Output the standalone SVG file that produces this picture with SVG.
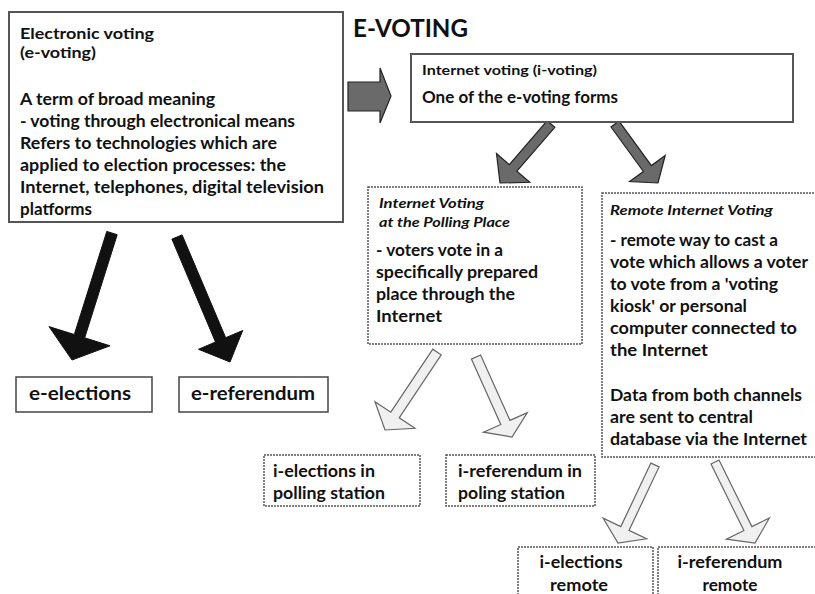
<svg xmlns="http://www.w3.org/2000/svg" width="815" height="594" viewBox="0 0 815 594">
<style>
text{font-family:Lato,"Open Sans","Liberation Sans",sans-serif;font-weight:bold;fill:#111}
.solid{fill:#fff;stroke:#555;stroke-width:2}
.thin{fill:#fff;stroke:#444;stroke-width:1.5}
.dash{fill:#fff;stroke:#555;stroke-width:1.5;stroke-dasharray:2 1}
.s15{font-size:15px}.s17{font-size:17px}.s14{font-size:14px}.s19{font-size:19px}
.it{font-style:italic}
.blk{fill:#111;stroke:#111;stroke-width:1}
.gry{fill:#6a6a6a;stroke:#222;stroke-width:1.2}
.hol{fill:#f0f0f0;stroke:#666;stroke-width:1.2}
</style>
<rect width="815" height="594" fill="#fff"/>
<g id="connectors">
<polygon class="gry" points="348,82 380,82 380,68 391,96 380,123 380,111 348,111"/>
<polygon class="blk" points="106.8,231.4 74.3,334.5 49,326.6 72,360 110,345.8 84.7,337.8 117.2,234.7"/>
<polygon class="blk" points="171.9,239.1 215.5,342 198.5,349.3 230,362 242.7,330.5 225.7,337.7 182.1,234.9"/>
<polygon class="gry" points="547.2,120.7 509.3,164.6 496.5,153.5 500,183 529.7,182.3 516.9,171.2 554.8,127.3"/>
<polygon class="gry" points="611,127 643.4,171.5 629.6,181.5 658,183 665.2,155.5 651.4,165.6 619,121.1"/>
<polygon class="hol" points="432.8,349.2 390.8,412.2 375,401.7 385,430 415,428.3 399.2,417.8 441.2,354.8"/>
<polygon class="hol" points="471.4,359.1 500.8,424.5 483.5,432.2 512,437 527.3,412.6 510,420.4 480.6,355"/>
<polygon class="hol" points="650.9,463.1 620.8,526.6 603.2,518.2 618,543 646.6,538.8 629,530.4 659.1,466.9"/>
<polygon class="hol" points="711,464 743.9,530.6 726.4,539.2 755,543 769.4,518 751.9,526.6 719,460"/>
</g>
<g id="title">
<text x="353" y="37" font-size="25" textLength="115" lengthAdjust="spacingAndGlyphs">E-VOTING</text>
</g>
<g id="e-voting">
<rect class="solid" x="9" y="12" width="334" height="210"/>
<text class="s15" x="20" y="39" textLength="134" lengthAdjust="spacingAndGlyphs">Electronic voting</text>
<text class="s15" x="20" y="58" textLength="76" lengthAdjust="spacingAndGlyphs">(e-voting)</text>
<text class="s17" x="20" y="105" textLength="195" lengthAdjust="spacingAndGlyphs">A term of broad meaning</text>
<text class="s17" x="20" y="127" textLength="275" lengthAdjust="spacingAndGlyphs">- voting through electronical means</text>
<text class="s17" x="20" y="149" textLength="257" lengthAdjust="spacingAndGlyphs">Refers to technologies which are</text>
<text class="s17" x="20" y="171" textLength="266" lengthAdjust="spacingAndGlyphs">applied to election processes: the</text>
<text class="s17" x="20" y="193" textLength="304" lengthAdjust="spacingAndGlyphs">Internet, telephones, digital television</text>
<text class="s17" x="20" y="215" textLength="72" lengthAdjust="spacingAndGlyphs">platforms</text>
</g>
<g id="i-voting">
<rect class="solid" x="411" y="54" width="382" height="68"/>
<text class="s14" x="422" y="75" textLength="175" lengthAdjust="spacingAndGlyphs">Internet voting (i-voting)</text>
<text class="s17" x="422" y="103" textLength="196" lengthAdjust="spacingAndGlyphs">One of the e-voting forms</text>
</g>
<g id="polling-place">
<rect class="dash" x="368" y="187" width="214" height="157"/>
<text class="s14 it" x="379" y="208" textLength="105" lengthAdjust="spacingAndGlyphs">Internet Voting</text>
<text class="s14 it" x="379" y="227" textLength="131" lengthAdjust="spacingAndGlyphs">at the Polling Place</text>
<text class="s17" x="376" y="256" textLength="127" lengthAdjust="spacingAndGlyphs">- voters vote in a</text>
<text class="s17" x="376" y="278" textLength="162" lengthAdjust="spacingAndGlyphs">specifically prepared</text>
<text class="s17" x="376" y="300" textLength="139" lengthAdjust="spacingAndGlyphs">place through the</text>
<text class="s17" x="376" y="322" textLength="66" lengthAdjust="spacingAndGlyphs">Internet</text>
</g>
<g id="remote">
<rect class="dash" x="602" y="193" width="218" height="264"/>
<text class="s14 it" x="610" y="215" textLength="163" lengthAdjust="spacingAndGlyphs">Remote Internet Voting</text>
<text class="s17" x="610" y="246" textLength="168" lengthAdjust="spacingAndGlyphs">- remote way to cast a</text>
<text class="s17" x="610" y="268" textLength="198" lengthAdjust="spacingAndGlyphs">vote which allows a voter</text>
<text class="s17" x="610" y="290" textLength="168" lengthAdjust="spacingAndGlyphs">to vote from a 'voting</text>
<text class="s17" x="610" y="312" textLength="137" lengthAdjust="spacingAndGlyphs">kiosk' or personal</text>
<text class="s17" x="610" y="334" textLength="187" lengthAdjust="spacingAndGlyphs">computer connected to</text>
<text class="s17" x="610" y="356" textLength="98" lengthAdjust="spacingAndGlyphs">the Internet</text>
<text class="s17" x="610" y="401" textLength="192" lengthAdjust="spacingAndGlyphs">Data from both channels</text>
<text class="s17" x="610" y="423" textLength="143" lengthAdjust="spacingAndGlyphs">are sent to central</text>
<text class="s17" x="610" y="445" textLength="197" lengthAdjust="spacingAndGlyphs">database via the Internet</text>
</g>
<g id="e-elections">
<rect class="thin" x="16" y="377" width="136" height="35"/>
<text class="s19" x="29" y="400" textLength="102" lengthAdjust="spacingAndGlyphs">e-elections</text>
</g>
<g id="e-referendum">
<rect class="thin" x="179" y="377" width="149" height="35"/>
<text class="s19" x="191" y="400" textLength="124" lengthAdjust="spacingAndGlyphs">e-referendum</text>
</g>
<g id="i-elections-polling">
<rect class="dash" x="264" y="455" width="156" height="51"/>
<text class="s17" x="273" y="477" textLength="102" lengthAdjust="spacingAndGlyphs">i-elections in</text>
<text class="s17" x="273" y="499" textLength="112" lengthAdjust="spacingAndGlyphs">polling station</text>
</g>
<g id="i-referendum-polling">
<rect class="dash" x="446" y="455" width="149" height="51"/>
<text class="s17" x="458" y="477" textLength="124" lengthAdjust="spacingAndGlyphs">i-referendum in</text>
<text class="s17" x="458" y="499" textLength="107" lengthAdjust="spacingAndGlyphs">poling station</text>
</g>
<g id="i-elections-remote">
<rect class="dash" x="518" y="547" width="135" height="60"/>
<text class="s17" x="581" y="568" text-anchor="middle" textLength="83" lengthAdjust="spacingAndGlyphs">i-elections</text>
<text class="s17" x="579" y="591" text-anchor="middle" textLength="58" lengthAdjust="spacingAndGlyphs">remote</text>
</g>
<g id="i-referendum-remote">
<rect class="dash" x="658" y="547" width="162" height="60"/>
<text class="s17" x="730" y="568" text-anchor="middle" textLength="105" lengthAdjust="spacingAndGlyphs">i-referendum</text>
<text class="s17" x="730" y="591" text-anchor="middle" textLength="55" lengthAdjust="spacingAndGlyphs">remote</text>
</g>
</svg>
